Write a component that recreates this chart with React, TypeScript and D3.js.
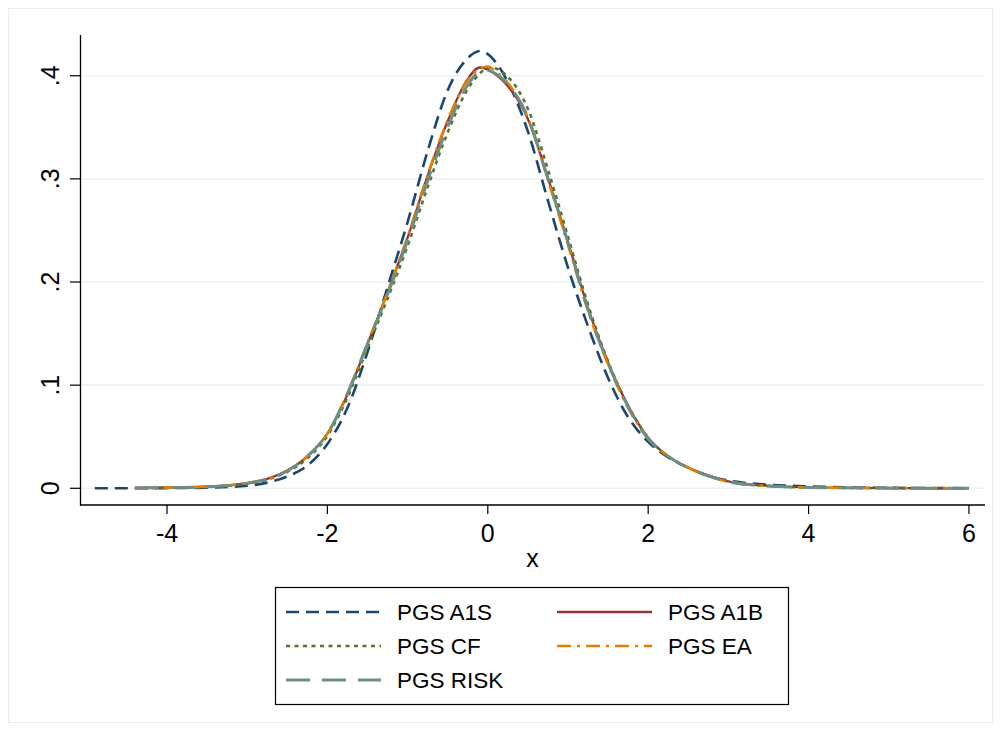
import React from "react";
import * as d3 from "d3";

const xGrid = [-4.9, -4.4, -4, -3.5, -3, -2.75, -2.5, -2.25, -2, -1.75, -1.5, -1.25, -1, -0.75, -0.5, -0.25, -0.1, 0, 0.1, 0.25, 0.5, 0.75, 1, 1.25, 1.5, 1.75, 2, 2.25, 2.5, 2.75, 3, 3.5, 4, 4.5, 5, 5.5, 6];

const pgsA1S = [0.0001, 0.0001, 0.0002, 0.0006, 0.0025, 0.0055, 0.0115, 0.022, 0.043, 0.078, 0.132, 0.195, 0.258, 0.327, 0.386, 0.417, 0.424, 0.421, 0.413, 0.394, 0.346, 0.279, 0.214, 0.157, 0.107, 0.069, 0.045, 0.030, 0.020, 0.012, 0.0075, 0.0035, 0.0018, 0.0009, 0.0004, 0.0002, 0.0001];
const pgsA1B = [null, 0.0003, 0.0006, 0.0015, 0.005, 0.0092, 0.0172, 0.031, 0.053, 0.091, 0.140, 0.190, 0.243, 0.303, 0.356, 0.397, 0.408, 0.406, 0.401, 0.390, 0.358, 0.301, 0.239, 0.175, 0.122, 0.080, 0.049, 0.031, 0.020, 0.0125, 0.0068, 0.0024, 0.0009, 0.0004, 0.0002, 0.0001, 0.0001];
const pgsCF = [null, 0.0002, 0.0005, 0.0013, 0.0045, 0.0085, 0.016, 0.029, 0.051, 0.088, 0.136, 0.184, 0.235, 0.292, 0.345, 0.387, 0.402, 0.408, 0.407, 0.399, 0.368, 0.309, 0.244, 0.178, 0.123, 0.080, 0.049, 0.031, 0.020, 0.012, 0.0065, 0.0022, 0.0008, 0.0004, 0.0002, 0.0001, 0.0001];
const pgsEA = [null, 0.0003, 0.0006, 0.0016, 0.005, 0.009, 0.017, 0.031, 0.053, 0.092, 0.141, 0.190, 0.244, 0.304, 0.357, 0.396, 0.407, 0.409, 0.404, 0.393, 0.359, 0.299, 0.236, 0.172, 0.120, 0.078, 0.048, 0.031, 0.020, 0.012, 0.0065, 0.0022, 0.0008, 0.0004, 0.0002, 0.0001, 0.0001];
const pgsRISK = [null, 0.0003, 0.0006, 0.0015, 0.005, 0.009, 0.017, 0.031, 0.053, 0.092, 0.140, 0.188, 0.240, 0.298, 0.350, 0.391, 0.404, 0.405, 0.402, 0.392, 0.360, 0.300, 0.238, 0.173, 0.121, 0.079, 0.048, 0.031, 0.020, 0.012, 0.0065, 0.0022, 0.0008, 0.0004, 0.0002, 0.0001, 0.0001];

const seriesNames = ["PGS A1S", "PGS A1B", "PGS CF", "PGS EA", "PGS RISK"];
const xTicks = [-4, -2, 0, 2, 4, 6];
const yTicks = [0, 0.1, 0.2, 0.3, 0.4];
const yTickLabels = ["0", ".1", ".2", ".3", ".4"];

const FONT = "'Liberation Sans', Arial, Helvetica, sans-serif";

const styles = [
  { color: "#1a476f", dash: "13 7", width: 2.6 },
  { color: "#90353b", dash: "", width: 2.3 },
  { color: "#55752f", dash: "4 4.5", width: 2.6 },
  { color: "#e37e00", dash: "14 6 3 6", width: 2.6 },
  { color: "#6e8e84", dash: "24 12", width: 2.9 },
];

export default function App() {
  const W = 1001, H = 731;
  const x = d3.scaleLinear().domain([-5.085, 6.2]).range([80, 985]);
  const y = d3.scaleLinear().domain([-0.0162, 0.4395]).range([505, 35]);
  const allSeries = [pgsA1S, pgsA1B, pgsCF, pgsEA, pgsRISK];
  const line = d3
    .line<[number, number | null]>()
    .defined((d) => d[1] !== null)
    .x((d) => x(d[0]))
    .y((d) => y(d[1] as number))
    .curve(d3.curveMonotoneX);

  const legendRows = [
    { i: 0, col: 0, row: 0 },
    { i: 1, col: 1, row: 0 },
    { i: 2, col: 0, row: 1 },
    { i: 3, col: 1, row: 1 },
    { i: 4, col: 0, row: 2 },
  ];
  const colX = [286, 557];
  const rowY = [612, 646, 680];

  return (
    <svg width={W} height={H} style={{ position: "absolute", left: 0, top: 0, background: "#fff" }} fontFamily={FONT}>
      <rect x={0} y={0} width={W} height={H} fill="#fff" />
      <rect x={8.5} y={8.5} width={984} height={714} fill="none" stroke="#e6eef0" strokeWidth={1} />
      {yTicks.map((t) => (
        <line key={"g" + t} x1={80} x2={985} y1={y(t)} y2={y(t)} stroke="#eaf2f3" strokeWidth={1.6} />
      ))}
      {allSeries.map((s, i) => (
        <path
          key={"s" + i}
          d={line(xGrid.map((xv, j) => [xv, s[j]] as [number, number | null])) || ""}
          fill="none"
          stroke={styles[i].color}
          strokeWidth={styles[i].width}
          strokeDasharray={styles[i].dash || undefined}
          strokeLinejoin="round"
        />
      ))}
      <line x1={80.5} x2={80.5} y1={35} y2={505.5} stroke="#000" strokeWidth={1.3} />
      <line x1={80} x2={985} y1={505} y2={505} stroke="#000" strokeWidth={1.3} />
      {yTicks.map((t, i) => (
        <g key={"yt" + t}>
          <line x1={70} x2={80} y1={y(t)} y2={y(t)} stroke="#000" strokeWidth={1.2} />
          <text
            transform={`translate(50,${y(t)}) rotate(-90)`}
            textAnchor="middle"
            dominantBaseline="central"
            fontSize={25}
            fill="#000"
          >
            {yTickLabels[i]}
          </text>
        </g>
      ))}
      {xTicks.map((t) => (
        <g key={"xt" + t}>
          <line x1={x(t)} x2={x(t)} y1={505} y2={514} stroke="#000" strokeWidth={1.2} />
          <text x={x(t)} y={542} textAnchor="middle" fontSize={25} fill="#000">
            {t < 0 ? "-" + Math.abs(t) : String(t)}
          </text>
        </g>
      ))}
      <text x={532.5} y={567} textAnchor="middle" fontSize={25} fill="#000">x</text>
      <rect x={275.5} y={587.5} width={513} height={117} fill="#fff" stroke="#000" strokeWidth={1.2} />
      {legendRows.map((r) => (
        <g key={"l" + r.i}>
          <line
            x1={colX[r.col]}
            x2={colX[r.col] + 95}
            y1={rowY[r.row]}
            y2={rowY[r.row]}
            stroke={styles[r.i].color}
            strokeWidth={styles[r.i].width}
            strokeDasharray={styles[r.i].dash || undefined}
          />
          <text x={colX[r.col] + 111} y={rowY[r.row] + 8} fontSize={22.5} fill="#000">
            {seriesNames[r.i]}
          </text>
        </g>
      ))}
    </svg>
  );
}
